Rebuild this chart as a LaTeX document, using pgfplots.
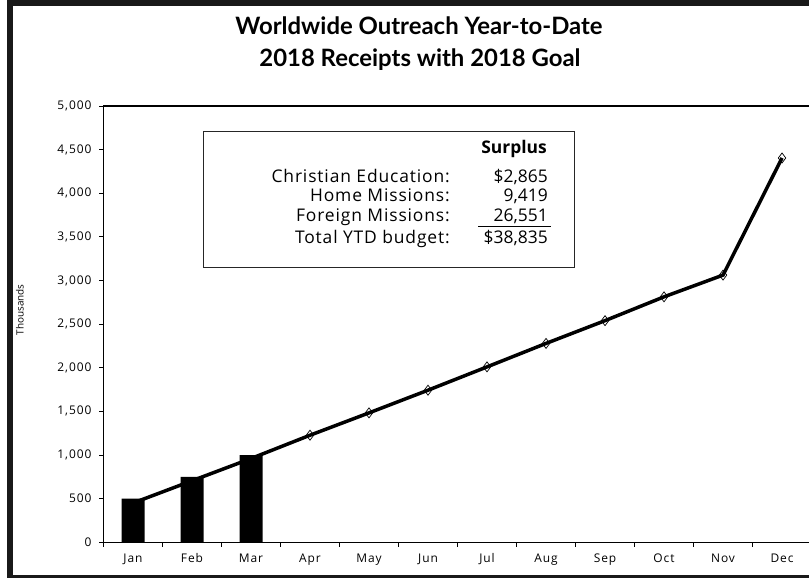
\documentclass[border=0pt]{standalone}
\usepackage{fontspec}
\setmainfont{Open Sans}
\newfontfamily\titlefont{Lato}
\newfontfamily\tickfont[LetterSpace=8]{Open Sans}
\newfontfamily\boxfont[LetterSpace=5]{Open Sans}
\usepackage{pgfplots}
\pgfplotsset{compat=1.18}
\begin{document}
\begin{tikzpicture}[x=1bp,y=1bp]
\useasboundingbox (0,0) rectangle (809,578);
\fill[white] (0,0) rectangle (809,578);
\begin{axis}[
  at={(103.5bp,35.7bp)}, anchor=south west,
  scale only axis, width=708bp, height=436.3bp,
  xmin=-0.5, xmax=11.5, ymin=0, ymax=5000,
  axis line style={line width=1.1bp},
  xtick={0,...,11},
  xticklabels={Jan,Feb,Mar,Apr,May,Jun,Jul,Aug,Sep,Oct,Nov,Dec},
  major x tick style={draw=none},
  minor xtick={-0.5,0.5,...,11.5},
  ytick={0,500,...,5000},
  xtick pos=bottom, ytick pos=left,
  tick align=outside, major tick length=4.5bp, minor tick length=4.5bp,
  every tick/.style={black, line width=0.8bp},
  scaled y ticks=false,
  /pgf/number format/assume math mode=true,
  /pgf/number format/1000 sep={,},
  yticklabel style={font=\tickfont\fontsize{12}{14}\selectfont, xshift=-4bp},
  xticklabel style={font=\tickfont\fontsize{12}{14}\selectfont, yshift=-3.5bp},
  clip=false,
]
\addplot[no marks, black, line width=3.5bp]
  coordinates {(0,450)(1,705)(2,960)(3,1227)(4,1483)(5,1743)(6,2010)(7,2279)(8,2540)(9,2813)(10,3062)(11,4404)};
\addplot[only marks, mark=diamond, mark size=5bp, mark options={draw=black, line width=0.7bp}]
  coordinates {(3,1227)(4,1483)(5,1743)(6,2010)(7,2279)(8,2540)(9,2813)(10,3062)(11,4404)};
\addplot[ybar, bar width=23bp, fill=black, draw=none]
  coordinates {(0,500)(1,750)(2,1000)};
\end{axis}
\node[font=\titlefont\bfseries\fontsize{24}{28}\selectfont] at (419,552) {Worldwide Outreach Year-to-Date};
\node[font=\titlefont\bfseries\fontsize{24}{28}\selectfont] at (420,518) {2018 Receipts with 2018 Goal};
\node[rotate=90, font=\fontsize{10}{12}\selectfont] at (20,268) {Thousands};
\draw[line width=0.9bp, black!85] (203,447) rectangle (574,311);
\begin{scope}[every node/.style={anchor=base east, inner sep=0pt, font=\fontsize{17.5}{21}\selectfont}]
\node[font=\bfseries\fontsize{17.5}{21}\selectfont] at (547,424) {Surplus};
\node[font=\boxfont\fontsize{17.5}{21}\selectfont] at (450,395) {Christian Education:};
\node[font=\boxfont\fontsize{17.5}{21}\selectfont] at (450,376) {Home Missions:};
\node[font=\boxfont\fontsize{17.5}{21}\selectfont] at (450,356) {Foreign Missions:};
\node[font=\boxfont\fontsize{17.5}{21}\selectfont] at (450,334) {Total YTD budget:};
\node at (548,395) {\$2,865};
\node at (548,376) {9,419};
\node at (548,356) {26,551};
\node at (548,334) {\$38,835};
\end{scope}
\draw[line width=1.1bp] (478,351.5) -- (551,351.5);
\draw[line width=6bp, black!90] (9.5,574.5) rectangle (840,0);
\end{tikzpicture}
\end{document}
